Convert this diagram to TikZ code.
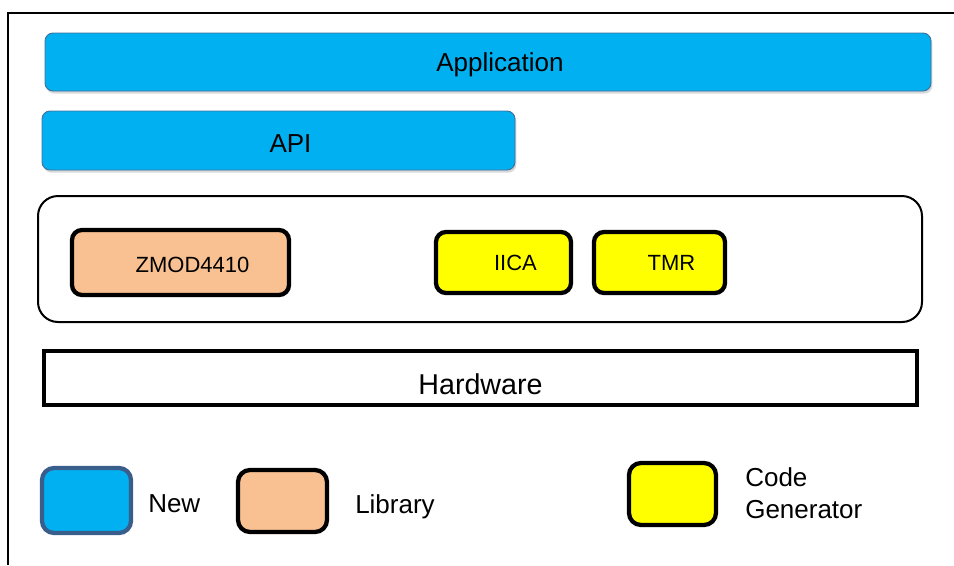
\documentclass[tikz,border=0pt]{standalone}
\usepackage{fontspec}
\setmainfont{Liberation Sans}
\usetikzlibrary{fit,shadows}

\definecolor{newblue}{HTML}{00B0F0}
\definecolor{newedge}{HTML}{41719C}
\definecolor{legendedge}{HTML}{3A5E8C}
\definecolor{libpeach}{HTML}{F9C191}
\definecolor{genyellow}{HTML}{FFFF00}

\tikzset{
  layer/.style={draw=newedge, line width=0.7pt, fill=newblue, rounded corners=6pt,
    inner sep=0pt,
    drop shadow={shadow xshift=1pt, shadow yshift=-2pt, opacity=0.3}},
  module/.style={draw=black, line width=3.2pt, rounded corners=7.5pt, inner sep=0pt},
  legendbox/.style={draw=black, line width=3.2pt, rounded corners=9pt, inner sep=0pt},
  legendtext/.style={anchor=west, inner sep=0pt, align=left,
    font=\fontsize{19.5}{24}\selectfont},
  bigtext/.style={xshift=9pt, yshift=-2pt, inner sep=0pt, font=\fontsize{19.5}{23}\selectfont},
  modtext/.style={xshift=9pt, inner sep=0pt, font=\fontsize{16.5}{20}\selectfont},
}

\begin{document}
\begin{tikzpicture}[x=0.75pt, y=-0.75pt]
\useasboundingbox (0,0) rectangle (954,565);
% frame
\draw[line width=1.5pt] (8,565) -- (8,13) -- (954,13);

% software layers
\node[layer, fit={(45,33) (931,91)}, label={[bigtext]center:Application}] (app) {};
\node[layer, fit={(42,111) (515,170)}, label={[bigtext]center:API}] (api) {};

% drivers
\node[draw=black, line width=1.5pt, rounded corners=15pt, inner sep=0pt,
  fit={(38,196) (922,322)}] (drivers) {};
\node[module, fill=libpeach, fit={(72,230) (289,295)},
  label={[modtext, yshift=-2pt]center:ZMOD4410}] (zmod) {};
\node[module, fill=genyellow, fit={(436,232) (571,293)},
  label={[modtext]center:IICA}] (iica) {};
\node[module, fill=genyellow, fit={(594,232) (725,293)},
  label={[modtext]center:TMR}] (tmr) {};

% hardware
\node[draw=black, line width=2.6pt, inner sep=0pt, fit={(44,351) (917,405)},
  label={[inner sep=0pt, yshift=-5pt, font=\fontsize{21.5}{25}\selectfont]center:Hardware}] (hw) {};

% legend
\node[legendbox, draw=legendedge, fill=newblue, fit={(42,468) (131,533)}] (keynew) {};
\node[legendtext] (keynewt) at (148,504) {New};
\node[legendbox, fill=libpeach, fit={(238,470) (327,532)}] (keylib) {};
\node[legendtext] (keylibt) at (355,507) {Library};
\node[legendbox, fill=genyellow, fit={(629,463) (716,525)}] (keygen) {};
\node[legendtext] (keygent) at (745,493) {Code\\Generator};
\end{tikzpicture}
\end{document}
